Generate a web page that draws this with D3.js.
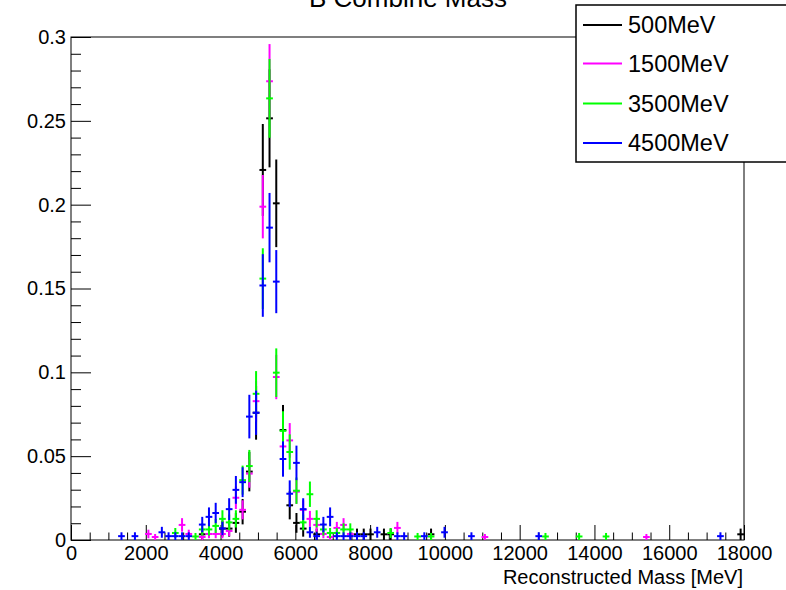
<!DOCTYPE html>
<html>
<head>
<meta charset="utf-8">
<script src="https://cdn.jsdelivr.net/npm/d3@7"></script>
<style>
  html, body { margin: 0; padding: 0; background: #fff; }
  svg { display: block; font-family: "Liberation Sans", Arial, Helvetica, sans-serif; }
</style>
</head>
<body>
<svg id="chart" width="786" height="590"></svg>
<script>
// Histogram binning: 100 bins over 0 - 18000 MeV
const xMin = 0, xMax = 18000, nBins = 100;
const yMax = 0.3;

const chartTitle = "B Combine Mass";
const xAxisTitle = "Reconstructed Mass [MeV]";

const seriesNames = ["500MeV", "1500MeV", "3500MeV", "4500MeV"];
const seriesColors = ["#000000", "#ff00ff", "#00ff00", "#0000ff"];
// Number of entries each normalised histogram was filled with (sets the Poisson error bars)
const seriesEntries = [294, 556, 476, 435];

// Filled bins (bin index) and normalised contents, per sample
const bins500 = [19, 22, 23, 24, 25, 26, 27, 28, 29, 30, 31, 32, 33, 34, 36, 42, 43, 44, 46, 47, 53, 99];
const vals500 = [0.0034, 0.0068, 0.0068, 0.0102, 0.0169, 0.0408, 0.0759, 0.2207, 0.2515, 0.2008, 0.0656, 0.0207,
                 0.0102, 0.0068, 0.0034, 0.0034, 0.0034, 0.0034, 0.0034, 0.0034, 0.0034, 0.0034];

const bins1500 = [11, 12, 16, 17, 19, 20, 21, 22, 23, 24, 25, 26, 27, 28, 29, 30, 31, 32, 33, 34, 35, 36, 37, 38,
                  39, 40, 41, 48, 61, 85];
const vals1500 = [0.0036, 0.0018, 0.0090, 0.0036, 0.0018, 0.0036, 0.0036, 0.0036, 0.0054, 0.0252, 0.0180, 0.0396,
                  0.0828, 0.1988, 0.2736, 0.0972, 0.0558, 0.0594, 0.0288, 0.0180, 0.0126, 0.0090, 0.0036, 0.0018,
                  0.0072, 0.0090, 0.0036, 0.0072, 0.0018, 0.0018];

const bins3500 = [15, 18, 19, 20, 21, 22, 23, 24, 25, 26, 27, 28, 29, 30, 31, 32, 33, 34, 35, 36, 37, 38, 39, 40,
                  41, 47, 51, 53, 70, 75, 79];
const vals3500 = [0.0042, 0.0021, 0.0063, 0.0063, 0.0084, 0.0126, 0.0105, 0.0126, 0.0357, 0.0441, 0.0872, 0.1559,
                  0.2634, 0.0998, 0.0651, 0.0525, 0.0294, 0.0105, 0.0273, 0.0126, 0.0063, 0.0042, 0.0042, 0.0063,
                  0.0063, 0.0042, 0.0021, 0.0021, 0.0021, 0.0021, 0.0021];

const bins4500 = [7, 9, 13, 14, 15, 16, 17, 19, 20, 21, 22, 23, 24, 25, 26, 27, 28, 29, 30, 31, 32, 33, 34, 35,
                  36, 37, 38, 39, 40, 41, 42, 43, 45, 48, 49, 52, 55, 59, 69, 96];
const vals4500 = [0.0023, 0.0023, 0.0046, 0.0023, 0.0023, 0.0023, 0.0023, 0.0092, 0.0138, 0.0161, 0.0069, 0.0184,
                  0.0299, 0.0345, 0.0736, 0.0759, 0.1518, 0.1863, 0.1541, 0.0483, 0.0276, 0.0460, 0.0184, 0.0046,
                  0.0023, 0.0092, 0.0138, 0.0023, 0.0023, 0.0023, 0.0023, 0.0023, 0.0046, 0.0023, 0.0023, 0.0023,
                  0.0046, 0.0023, 0.0023, 0.0023];

const seriesBins = [bins500, bins1500, bins3500, bins4500];
const seriesVals = [vals500, vals1500, vals3500, vals4500];

// Axis ticks
const xMajorTicks = [0, 2000, 4000, 6000, 8000, 10000, 12000, 14000, 16000, 18000];
const xTickLabels = ["0", "2000", "4000", "6000", "8000", "10000", "12000", "14000", "16000", "18000"];
const yMajorTicks = [0, 0.05, 0.1, 0.15, 0.2, 0.25, 0.3];
const yTickLabels = ["0", "0.05", "0.1", "0.15", "0.2", "0.25", "0.3"];
const xMinorStep = 500, yMinorStep = 0.01;

// ---- layout ----
const frame = { left: 71, right: 744, top: 37, bottom: 540 };
const svg = d3.select("#chart");

const x = d3.scaleLinear().domain([xMin, xMax]).range([frame.left, frame.right]);
const y = d3.scaleLinear().domain([0, yMax]).range([frame.bottom, frame.top]);
const binWidth = (xMax - xMin) / nBins;
const binCenter = k => xMin + (k + 0.5) * binWidth;

// Title (sits partly above the canvas)
svg.append("text")
  .attr("x", 408).attr("y", 7)
  .attr("text-anchor", "middle")
  .attr("font-size", 26)
  .text(chartTitle);

// Frame
svg.append("rect")
  .attr("x", frame.left).attr("y", frame.top)
  .attr("width", frame.right - frame.left).attr("height", frame.bottom - frame.top)
  .attr("fill", "none").attr("stroke", "#000").attr("stroke-width", 1);

// Minor ticks
const xMinor = d3.range(xMin, xMax + 1, xMinorStep).filter(v => !xMajorTicks.includes(v));
const yMinor = d3.range(0, 30 + 1).map(i => i * yMinorStep).filter(v => Math.abs(v * 20 - Math.round(v * 20)) > 1e-6);

const axisStyle = g => {
  g.select(".domain").remove();
  g.selectAll(".tick line").attr("stroke", "#000").attr("stroke-width", 1);
  g.selectAll(".tick text").attr("fill", "#000").attr("font-size", 20)
    .attr("font-family", "'Liberation Sans', Arial, Helvetica, sans-serif");
};

svg.append("g").attr("transform", `translate(0,${frame.bottom})`)
  .call(d3.axisBottom(x).tickValues(xMinor).tickSize(-7.5).tickFormat(""))
  .call(axisStyle);
svg.append("g").attr("transform", `translate(0,${frame.bottom})`)
  .call(d3.axisBottom(x).tickValues(xMajorTicks).tickSize(-15).tickPadding(6)
    .tickFormat((d, i) => xTickLabels[i]))
  .call(axisStyle);

svg.append("g").attr("transform", `translate(${frame.left},0)`)
  .call(d3.axisLeft(y).tickValues(yMinor).tickSize(-10).tickFormat(""))
  .call(axisStyle);
svg.append("g").attr("transform", `translate(${frame.left},0)`)
  .call(d3.axisLeft(y).tickValues(yMajorTicks).tickSize(-20).tickPadding(5)
    .tickFormat((d, i) => yTickLabels[i]))
  .call(axisStyle);

// X axis title
svg.append("text")
  .attr("x", 743).attr("y", 584)
  .attr("text-anchor", "end")
  .attr("font-size", 20)
  .text(xAxisTitle);

// Error-bar crosses: horizontal = bin width, vertical = +/- sqrt(content / entries)
const plot = svg.append("g");
seriesNames.forEach((name, s) => {
  const pts = seriesBins[s].map((k, i) => {
    const v = seriesVals[s][i];
    return { c: binCenter(k), v: v, e: Math.sqrt(v / seriesEntries[s]) };
  });
  const g = plot.append("g").attr("stroke", seriesColors[s]).attr("stroke-width", 2);
  g.selectAll("line.v").data(pts).join("line").attr("class", "v")
    .attr("x1", d => x(d.c)).attr("x2", d => x(d.c))
    .attr("y1", d => y(Math.max(0, d.v - d.e))).attr("y2", d => y(Math.min(yMax, d.v + d.e)));
  g.selectAll("line.h").data(pts).join("line").attr("class", "h")
    .attr("x1", d => x(d.c - binWidth / 2)).attr("x2", d => x(d.c + binWidth / 2))
    .attr("y1", d => y(d.v)).attr("y2", d => y(d.v));
});

// Legend
const legend = svg.append("g");
legend.append("rect")
  .attr("x", 576).attr("y", 5).attr("width", 240).attr("height", 157)
  .attr("fill", "#fff").attr("stroke", "#000").attr("stroke-width", 1.5);
const rowY = [25, 63.5, 103.5, 143];
seriesNames.forEach((name, s) => {
  legend.append("line")
    .attr("x1", 583).attr("x2", 622).attr("y1", rowY[s]).attr("y2", rowY[s])
    .attr("stroke", seriesColors[s]).attr("stroke-width", 2);
  legend.append("text")
    .attr("x", 628).attr("y", rowY[s]).attr("dy", "0.36em")
    .attr("font-size", 23.5)
    .text(name);
});
</script>
</body>
</html>
